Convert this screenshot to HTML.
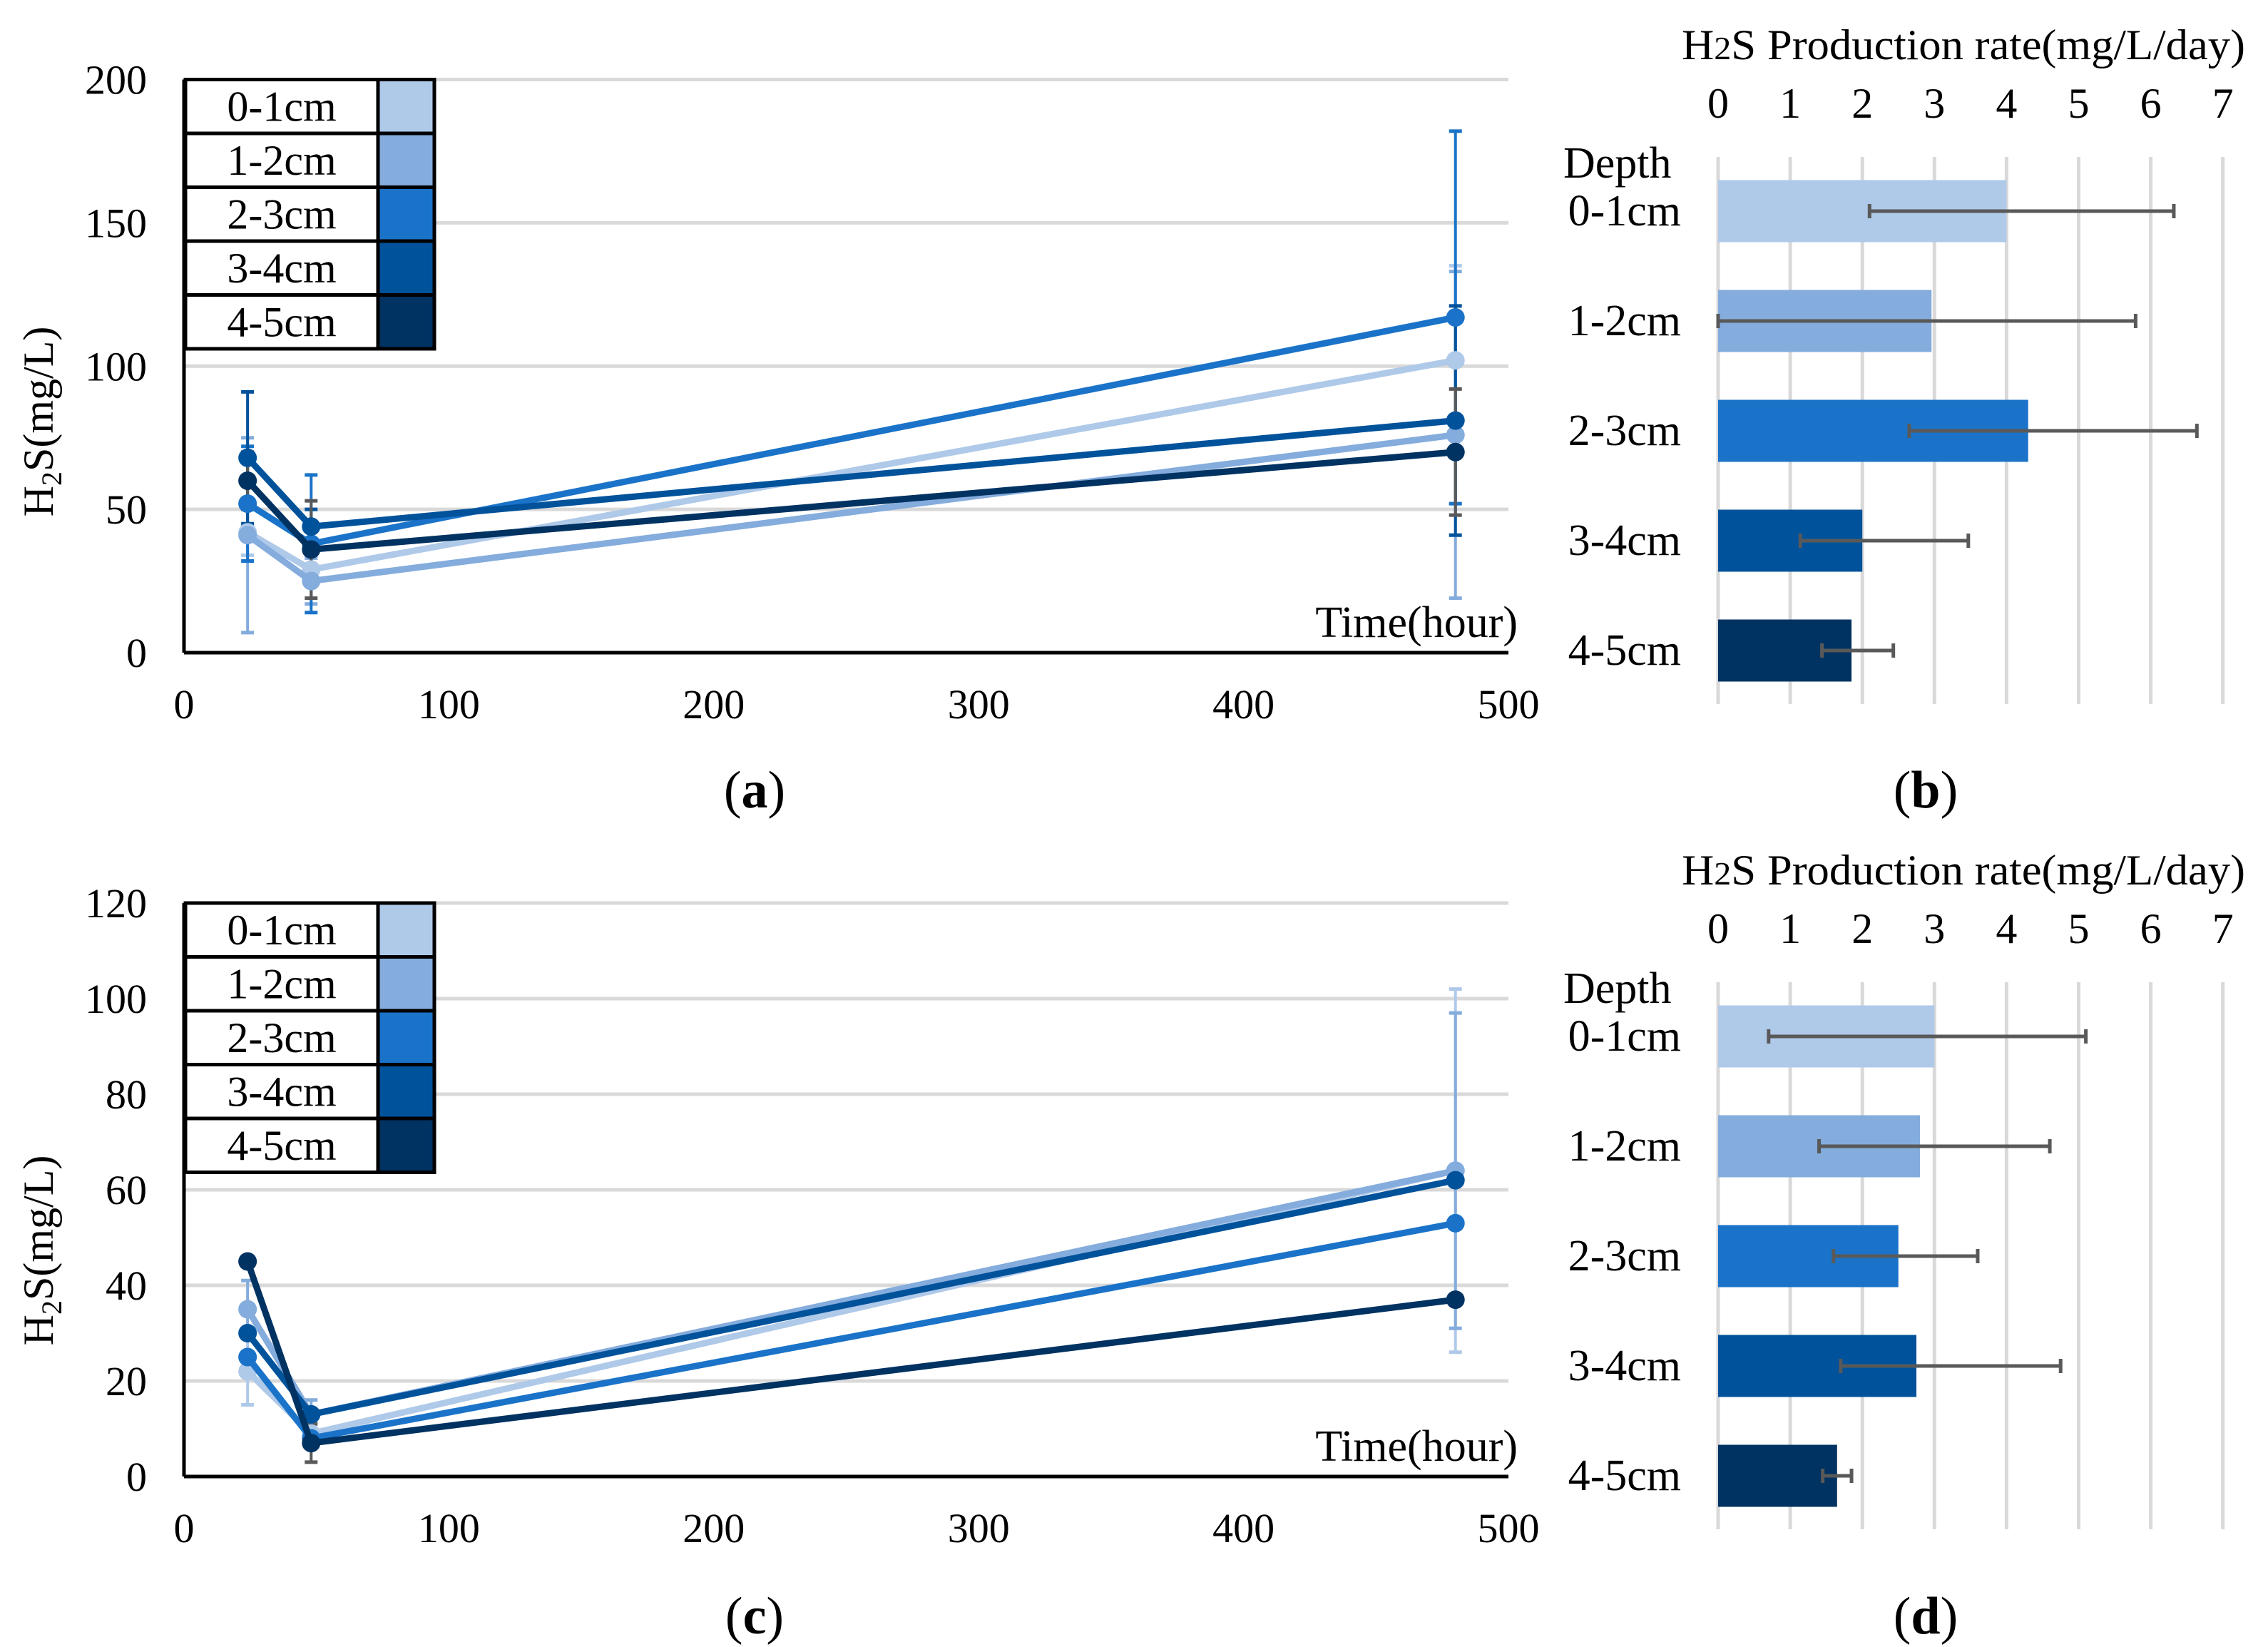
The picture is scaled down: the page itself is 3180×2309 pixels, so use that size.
<!DOCTYPE html>
<html><head><meta charset="utf-8"><style>
html,body{margin:0;padding:0;background:#fff;}
svg{display:block;font-family:"Liberation Serif",serif;}
</style></head><body>
<svg id="fig" xmlns="http://www.w3.org/2000/svg" width="3180" height="2309" viewBox="0 0 3180 2309">
<rect width="3180" height="2309" fill="#fff"/>
</svg>
<script>
const NS="http://www.w3.org/2000/svg";
const svg=document.getElementById('fig');
const depths=["0-1cm","1-2cm","2-3cm","3-4cm","4-5cm"];
const colors=["#AFC9E9","#84ACDD","#1A73C8","#00529B","#003262"];
const errColors=["#AFC9E9","#84ACDD","#1A73C8","#00529B","#595959"];
const times=[24,48,480];
// Panel (a)
const aVals=[[42,29,102],[41,25,76],[52,38,117],[68,44,81],[60,36,70]];
const aErr=[[8,4,33],[34,8,57],[20,24,65],[23,6,40],[10,17,22]];
const aTicks=[0,50,100,150,200];
// Panel (c)
const cVals=[[22,9,64],[35,13,64],[25,8,53],[30,13,62],[45,7,37]];
const cErr=[[7,3,38],[6,3,33],[0,0,0],[0,0,0],[0,4,0]];
const cTicks=[0,20,40,60,80,100,120];
const xTicks=[0,100,200,300,400,500];
// Panel (b)
const bVals=[4.0,2.96,4.30,2.0,1.85];
const bLo=[2.1,0,2.65,1.14,1.44];
const bHi=[6.32,5.79,6.64,3.47,2.43];
// Panel (d)
const dVals=[3.0,2.8,2.5,2.75,1.65];
const dLo=[0.7,1.4,1.6,1.7,1.45];
const dHi=[5.1,4.6,3.6,4.75,1.85];
const rateTicks=[0,1,2,3,4,5,6,7];

function el(tag,attrs,parent,text){const e=document.createElementNS(NS,tag);for(const k in attrs)e.setAttribute(k,attrs[k]);if(text!==undefined)e.textContent=text;(parent||svg).appendChild(e);return e;}

function linePanel(vals,errs,ticks,top,bottom,tag,labelY,yTitleY){
  const g=el('g',{});
  
  
  const x0=258,x1=2115,ymax=ticks[ticks.length-1];
  const X=v=>x0+(v/500)*(x1-x0);
  const Y=v=>bottom-(v/ymax)*(bottom-top);
  ticks.forEach(t=>{
    if(t>0){const l=el('line',{x1:x0,x2:x1,y1:Y(t),y2:Y(t),stroke:'#d9d9d9','stroke-width':5},g);
      }
    const tx=el('text',{x:206,y:Y(t)+20,'font-size':58,'text-anchor':'end'},g,String(t));
    
  });
  xTicks.forEach(t=>{const tx=el('text',{x:X(t),y:bottom+92,'font-size':58,'text-anchor':'middle'},g,String(t));
    });
  el('line',{x1:x0,x2:x1,y1:bottom,y2:bottom,stroke:'#000','stroke-width':5},g);
  el('line',{x1:x0,x2:x0,y1:top,y2:bottom,stroke:'#000','stroke-width':5},g);
  const xt=el('text',{x:2128,y:bottom-22,'font-size':62,'text-anchor':'end'},g,'Time(hour)');
  
  const yt=el('text',{transform:`translate(74,${yTitleY}) rotate(-90)`,'font-size':60,'text-anchor':'middle'},g);
  
  el('tspan',{},yt,'H');el('tspan',{'font-size':40,dy:12},yt,'2');el('tspan',{dy:-12},yt,'S(mg/L)');
  // legend
  const lg=el('g',{},g);
  const rowH=75.5;
  depths.forEach((d,i)=>{
    const y=top+i*rowH;
    el('rect',{x:260,y:y,width:270,height:rowH,fill:'#fff',stroke:'#000','stroke-width':5},lg);
    el('rect',{x:530,y:y,width:79,height:rowH,fill:colors[i],stroke:'#000','stroke-width':5},lg);
    const t=el('text',{x:395,y:y+58,'font-size':60,'text-anchor':'middle'},lg,d);
    
  });
  // series
  vals.forEach((s,i)=>{
    const sg=el('g',{},g);
    s.forEach((v,j)=>{const e=errs[i][j];if(e>0){
      el('line',{x1:X(times[j]),x2:X(times[j]),y1:Y(v-e),y2:Y(v+e),stroke:errColors[i],'stroke-width':4},sg);
      [v-e,v+e].forEach(w=>el('line',{x1:X(times[j])-9,x2:X(times[j])+9,y1:Y(w),y2:Y(w),stroke:errColors[i],'stroke-width':5},sg));}});
  });
  vals.forEach((s,i)=>{
    const pts=s.map((v,j)=>X(times[j])+','+Y(v)).join(' ');
    const pl=el('polyline',{points:pts,fill:'none',stroke:colors[i],'stroke-width':9,'stroke-linejoin':'round'},g);
    
    s.forEach((v,j)=>{const c=el('circle',{cx:X(times[j]),cy:Y(v),r:13,fill:colors[i]},g);
      });
  });
  const lb=el('text',{x:1058,y:labelY,'font-size':74,'text-anchor':'middle'},g);
  
  el('tspan',{},lb,'(');el('tspan',{'font-weight':'bold'},lb,tag);el('tspan',{},lb,')');
}

function barPanel(vals,lo,hi,off,tag,labelY){
  const g=el('g',{});
  const x0=2409,unit=101.1;const X=v=>x0+v*unit;
  const t=el('text',{x:2358,y:83+off,'font-size':60,textLength:790,lengthAdjust:'spacingAndGlyphs'},g);
  
  el('tspan',{},t,'H');el('tspan',{'font-size':46},t,'2');el('tspan',{},t,'S Production rate(mg/L/day)');
  rateTicks.forEach(r=>{
    const l=el('line',{x1:X(r),x2:X(r),y1:220+off,y2:987+off,stroke:'#d9d9d9','stroke-width':5},g);
    
    const tx=el('text',{x:X(r),y:165+off,'font-size':60,'text-anchor':'middle'},g,String(r));
    
  });
  const dp=el('text',{x:2192,y:249+off,'font-size':62},g,'Depth');
  
  vals.forEach((v,i)=>{
    const cy=296+off+i*154;
    const r=el('rect',{x:x0,y:cy-43.5,width:v*unit,height:87,fill:colors[i]},g);
    
    const lt=el('text',{x:2357,y:cy+20,'font-size':62,'text-anchor':'end'},g,depths[i]);
    
    el('line',{x1:X(lo[i]),x2:X(hi[i]),y1:cy,y2:cy,stroke:'#595959','stroke-width':5},g);
    [lo[i],hi[i]].forEach(w=>el('line',{x1:X(w),x2:X(w),y1:cy-10,y2:cy+10,stroke:'#595959','stroke-width':5},g));
  });
  const lb=el('text',{x:2700,y:labelY,'font-size':74,'text-anchor':'middle'},g);
  
  el('tspan',{},lb,'(');el('tspan',{'font-weight':'bold'},lb,tag);el('tspan',{},lb,')');
}

linePanel(aVals,aErr,aTicks,111.5,915,'a',1132,591);
linePanel(cVals,cErr,cTicks,1266,2070,'c',2290,1753);
barPanel(bVals,bLo,bHi,0,'b',1132);
barPanel(dVals,dLo,dHi,1157,'d',2290);
</script>
</body></html>
